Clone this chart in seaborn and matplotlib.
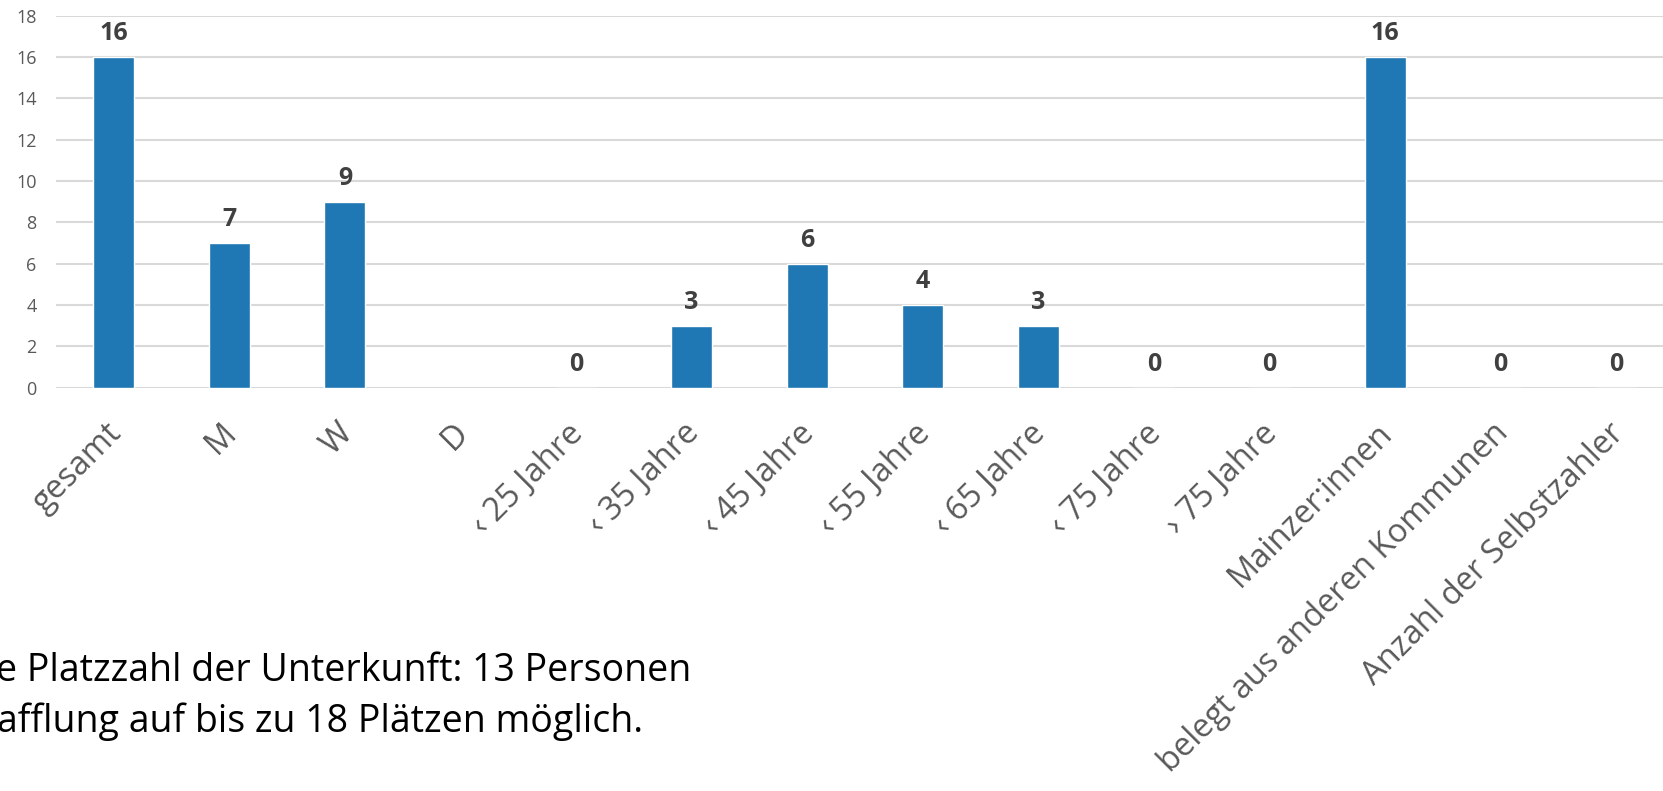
import numpy as np
import pandas as pd
import seaborn as sns
import matplotlib.pyplot as plt
import matplotlib.transforms as mtransforms

categories = ["gesamt", "M", "W", "D", "‹ 25 Jahre", "‹ 35 Jahre", "‹ 45 Jahre",
              "‹ 55 Jahre", "‹ 65 Jahre", "‹ 75 Jahre", "› 75 Jahre", "Mainzer:innen",
              "belegt aus anderen Kommunen", "Anzahl der Selbstzahler"]
values = [16, 7, 9, np.nan, 0, 3, 6, 4, 3, 0, 0, 16, 0, 0]
y_ticks = list(range(0, 20, 2))
note_lines = ["e Platzzahl der Unterkunft: 13 Personen",
              "afflung auf bis zu 18 Plätzen möglich."]

sns.set_theme(style="white")
plt.rcParams['font.family'] = ['Open Sans', 'DejaVu Sans']

df = pd.DataFrame({"Kategorie": categories, "Anzahl": values})

fig = plt.figure(figsize=(16.63, 7.91), dpi=100)
ax = fig.add_axes([56 / 1663, 1 - 387.7 / 791, 1618 / 1663, 372 / 791])

sns.barplot(data=df, x="Kategorie", y="Anzahl", order=categories, color="#1f77b4",
            saturation=1, width=0.355, ax=ax, zorder=3)

ax.set_ylim(0, 18)
ax.set_yticks(y_ticks)
ax.yaxis.grid(True, color="#d9d9d9", linewidth=1.5, zorder=0)
ax.set_axisbelow(True)
for s in ax.spines.values():
    s.set_visible(False)
ax.tick_params(axis="both", length=0)
ax.set_xlabel("")
ax.set_ylabel("")
ax.set_yticklabels([str(t) for t in y_ticks], fontsize=13, color="#595959")
ax.tick_params(axis="y", pad=14)
ax.set_xticks(range(len(categories)))
ax.set_xticklabels(categories, rotation=45, ha="right", rotation_mode="anchor",
                   fontsize=23.5, color="#595959")
ax.tick_params(axis="x", pad=21)
shift = mtransforms.ScaledTranslation(-9 / 100, 0, fig.dpi_scale_trans)
for lbl in ax.get_xticklabels():
    lbl.set_transform(lbl.get_transform() + shift)

for i, v in enumerate(values):
    if np.isnan(v):
        continue
    ax.annotate(str(int(v)), (i, v), xytext=(0, 8), textcoords="offset points",
                ha="center", va="bottom", fontsize=18, fontweight="bold", color="#404040")

fig.text(-4 / 1663, 1 - 681 / 791, note_lines[0], fontsize=27, color="black",
         ha="left", va="baseline")
fig.text(-3 / 1663, 1 - 732 / 791, note_lines[1], fontsize=27, color="black",
         ha="left", va="baseline")

fig.savefig("out.png", dpi=100)
